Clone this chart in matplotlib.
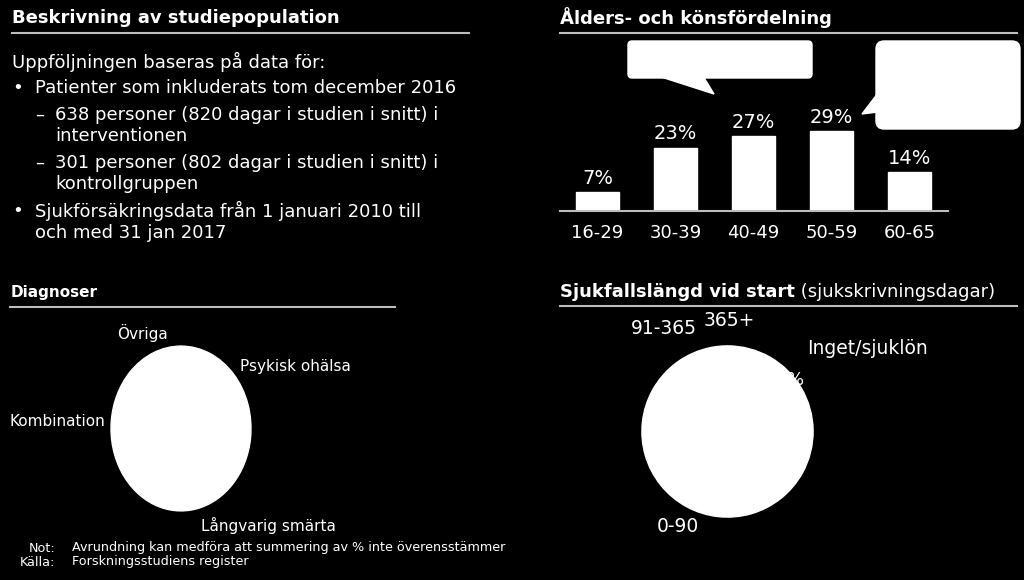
import matplotlib.pyplot as plt
from matplotlib.patches import FancyBboxPatch, Polygon

# data
age_groups = ["16-29", "30-39", "40-49", "50-59", "60-65"]
age_share = [7, 23, 27, 29, 14]

diag_labels = ["Psykisk ohälsa", "Långvarig smärta", "Kombination", "Övriga"]
diag_share = [27, 39, 21, 13]

sick_labels = ["Inget/sjuklön", "0-90", "91-365", "365+"]
sick_share = [33, 50, 14, 3]

W, H = 1024, 580
BG = "black"
FG = "white"
LINE = "#bdbdbd"
FONT = "DejaVu Sans"

plt.rcParams["font.family"] = FONT

fig = plt.figure(figsize=(W / 100, H / 100), dpi=100, facecolor=BG)


def px_axes(left, top, width, height, **kw):
    return fig.add_axes([left / W, 1 - (top + height) / H, width / W, height / H], **kw)


# canvas for text, rules and bubbles (pixel coords)
cv = px_axes(0, 0, W, H, zorder=0)
cv.set_xlim(0, W)
cv.set_ylim(H, 0)
cv.axis("off")
cv.set_facecolor(BG)

# section titles and rules
head = 13
cv.text(12, 18, "Beskrivning av studiepopulation", color=FG, fontsize=head,
        fontweight="bold", va="center")
cv.plot([12, 469], [33, 33], color=LINE, lw=1.5)

cv.text(560, 18, "Ålders- och könsfördelning", color=FG, fontsize=head,
        fontweight="bold", va="center")
cv.plot([560, 1017], [33, 33], color=LINE, lw=1.5)

cv.text(11, 292, "Diagnoser", color=FG, fontsize=11, fontweight="bold", va="center")
cv.plot([10, 395], [307, 307], color=LINE, lw=1.5)

t = cv.text(560, 292, "Sjukfallslängd vid start", color=FG, fontsize=head,
            fontweight="bold", va="center")
cv.annotate(" (sjukskrivningsdagar)", xycoords=t, xy=(1, 0.5), va="center",
            color=FG, fontsize=head)
cv.plot([560, 1017], [306, 306], color=LINE, lw=1.5)

# description text
body = 13
cv.text(12, 62, "Uppföljningen baseras på data för:", color=FG, fontsize=body, va="center")
cv.text(12, 88, "•", color=FG, fontsize=body, va="center")
cv.text(35, 88, "Patienter som inkluderats tom december 2016", color=FG, fontsize=body, va="center")
cv.text(35, 115, "–", color=FG, fontsize=body, va="center")
cv.text(55, 115, "638 personer (820 dagar i studien i snitt) i", color=FG, fontsize=body, va="center")
cv.text(55, 136, "interventionen", color=FG, fontsize=body, va="center")
cv.text(35, 163, "–", color=FG, fontsize=body, va="center")
cv.text(55, 163, "301 personer (802 dagar i studien i snitt) i", color=FG, fontsize=body, va="center")
cv.text(55, 184, "kontrollgruppen", color=FG, fontsize=body, va="center")
cv.text(12, 211, "•", color=FG, fontsize=body, va="center")
cv.text(35, 211, "Sjukförsäkringsdata från 1 januari 2010 till", color=FG, fontsize=body, va="center")
cv.text(35, 233, "och med 31 jan 2017", color=FG, fontsize=body, va="center")

# footnotes
note = 9.2
cv.text(55, 548, "Not:", color=FG, fontsize=note, ha="right", va="center")
cv.text(72, 548, "Avrundning kan medföra att summering av % inte överensstämmer",
        color=FG, fontsize=note, va="center")
cv.text(55, 562, "Källa:", color=FG, fontsize=note, ha="right", va="center")
cv.text(72, 562, "Forskningsstudiens register", color=FG, fontsize=note, va="center")

# speech bubbles
cv.add_patch(FancyBboxPatch((632, 45), 176, 29, boxstyle="round,pad=4",
                            fc=FG, ec=FG))
cv.add_patch(Polygon([(658, 76), (703, 76), (714, 94)], closed=True, fc=FG, ec=FG))
cv.add_patch(FancyBboxPatch((884, 49), 128, 72, boxstyle="round,pad=8",
                            fc=FG, ec=FG))
cv.add_patch(Polygon([(878, 93), (878, 112), (862, 114)], closed=True, fc=FG, ec=FG))

# hidden percentage behind the right pie
cv.text(805, 380, "33%", color=FG, fontsize=13, ha="right", va="center")

# bar chart
px_per_pct = 2.76
bar_top, bar_bottom = 40, 211
ax = px_axes(560, bar_top, 388, bar_bottom - bar_top, zorder=1)
ax.patch.set_alpha(0)
x = range(len(age_groups))
bars = ax.bar(x, age_share, width=0.55, color=FG, edgecolor=FG)
ax.set_xlim(-0.48, 4.49)
ax.set_ylim(0, (bar_bottom - bar_top) / px_per_pct)
for b, v in zip(bars, age_share):
    ax.annotate(f"{v}%", (b.get_x() + b.get_width() / 2, v), xytext=(0, 3),
                textcoords="offset points", ha="center", va="bottom",
                color=FG, fontsize=14)
ax.set_xticks(list(x))
ax.set_xticklabels(age_groups, color=FG, fontsize=13)
ax.tick_params(axis="x", length=0, pad=9)
ax.set_yticks([])
for s in ["top", "right", "left"]:
    ax.spines[s].set_visible(False)
ax.spines["bottom"].set_color(LINE)
ax.spines["bottom"].set_linewidth(1.5)

# diagnoses pie (stretched vertically)
ax2 = px_axes(181 - 87.5, 428.5 - 103, 175, 206, zorder=2)
ax2.pie(diag_share, startangle=90, counterclock=False,
        colors=[FG] * len(diag_share), wedgeprops=dict(edgecolor=FG, linewidth=1))
ax2.set_aspect("auto")
ax2.set_xlim(-1.25, 1.25)
ax2.set_ylim(-1.25, 1.25)
ax2.patch.set_alpha(0)

diag_pos = [(240, 366, "left"), (201, 525, "left"), (105, 422, "right"), (168, 333, "right")]
for lab, (lx, ly, ha) in zip(diag_labels, diag_pos):
    cv.text(lx, ly, lab, color=FG, fontsize=11, ha=ha, va="center")

# sick-leave pie
ax3 = px_axes(727.5 - 107, 431.5 - 107, 214, 214, zorder=2)
ax3.pie(sick_share, startangle=90, counterclock=False,
        colors=[FG] * len(sick_share), wedgeprops=dict(edgecolor=FG, linewidth=1))
ax3.set_xlim(-1.25, 1.25)
ax3.set_ylim(-1.25, 1.25)
ax3.patch.set_alpha(0)

sick_pos = [(807, 349, "left"), (699, 527, "right"), (697, 328, "right"), (704, 320, "left")]
for lab, (lx, ly, ha) in zip(sick_labels, sick_pos):
    cv.text(lx, ly, lab, color=FG, fontsize=13.5, ha=ha, va="center")

fig.savefig("out.png", dpi=100, facecolor=BG)
